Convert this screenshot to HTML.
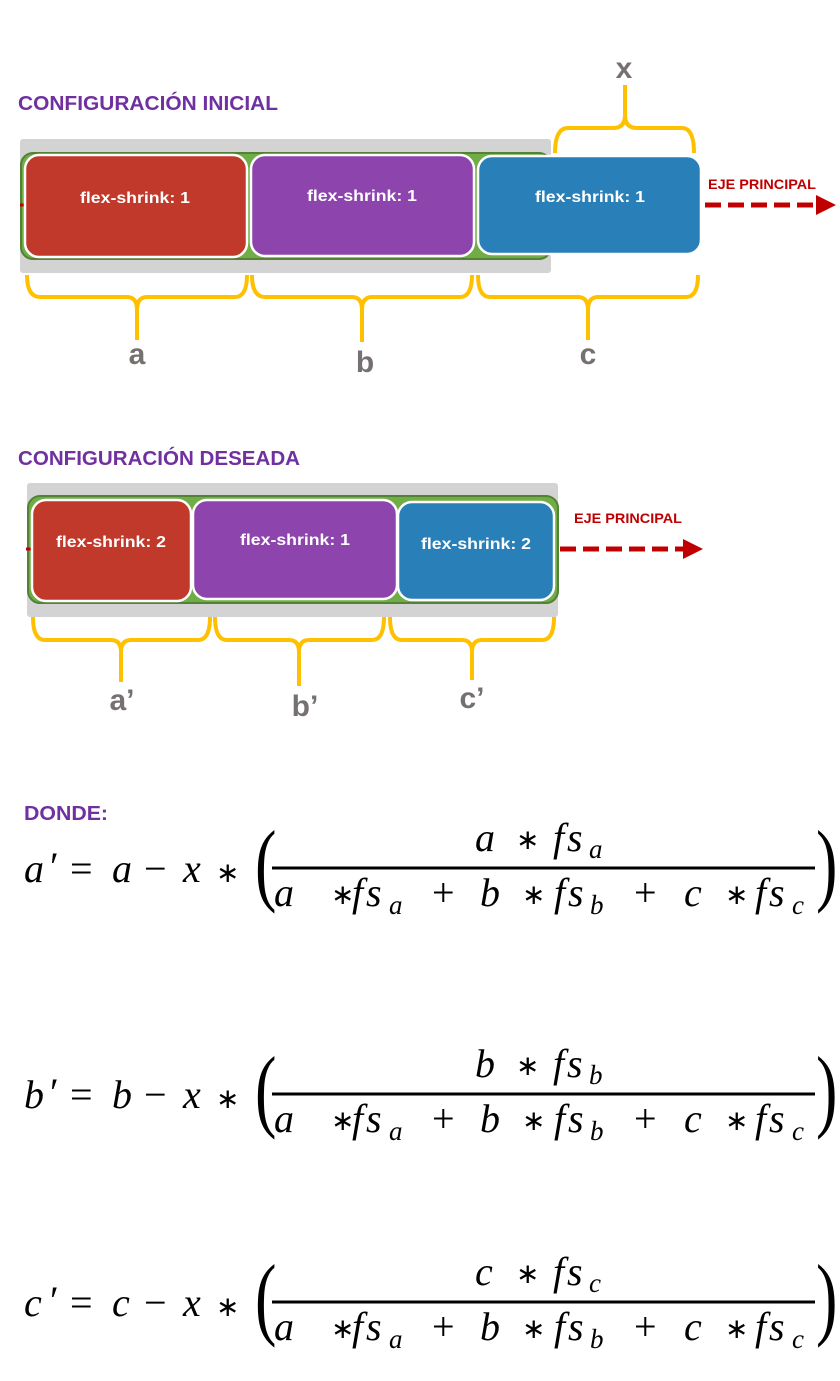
<!DOCTYPE html>
<html><head><meta charset="utf-8"><style>
html,body{margin:0;padding:0;background:#fff;}
svg{display:block;}
.t{font-family:"Liberation Sans",sans-serif;font-weight:bold;}
.m{font-family:"Liberation Serif",serif;font-style:italic;fill:#000;}
.r{font-family:"Liberation Serif",serif;fill:#000;}
</style></head><body>
<svg id="s" width="840" height="1381" viewBox="0 0 840 1381">
<!-- Section 1 -->
<text class="t" x="18" y="110" font-size="20" fill="#7030a0" textLength="260" lengthAdjust="spacingAndGlyphs">CONFIGURACIÓN INICIAL</text>
<rect x="20" y="139" width="531" height="134" rx="3" fill="#d3d3d3"/>
<rect x="21" y="153" width="530" height="106" rx="12" fill="#70ad47" stroke="#538135" stroke-width="2"/>
<line x1="20" y1="205" x2="30" y2="205" stroke="#c00000" stroke-width="3"/>
<rect x="25" y="155" width="222" height="102" rx="14" fill="#c0392b" stroke="#fff" stroke-width="2.5"/>
<rect x="251" y="155" width="223" height="101" rx="14" fill="#8e44ad" stroke="#fff" stroke-width="2.5"/>
<rect x="478" y="156" width="223" height="98" rx="14" fill="#2980b9" stroke="#fff" stroke-width="2.5"/>
<g class="t" font-size="16" fill="#fff" text-anchor="middle">
<text x="135" y="203" textLength="110" lengthAdjust="spacingAndGlyphs">flex-shrink: 1</text>
<text x="362" y="201" textLength="110" lengthAdjust="spacingAndGlyphs">flex-shrink: 1</text>
<text x="590" y="202" textLength="110" lengthAdjust="spacingAndGlyphs">flex-shrink: 1</text>
</g>
<text class="t" x="708" y="189" font-size="14" fill="#c00000" textLength="108" lengthAdjust="spacingAndGlyphs">EJE PRINCIPAL</text>
<line x1="705" y1="205" x2="818" y2="205" stroke="#c00000" stroke-width="5" stroke-dasharray="16,7"/>
<polygon points="816,195 836,205 816,215" fill="#c00000"/>
<g fill="none" stroke="#ffc000" stroke-width="4" stroke-linejoin="round">
<path d="M27,275 Q27,297 40,297 L127,297 Q137,297 137,310 L137,340 M137,310 Q137,297 147,297 L235,297 Q247,297 247,275"/>
<path d="M252,275 Q252,297 265,297 L352,297 Q362,297 362,310 L362,342 M362,310 Q362,297 372,297 L460,297 Q472,297 472,275"/>
<path d="M478,275 Q478,297 490,297 L578,297 Q588,297 588,310 L588,340 M588,310 Q588,297 598,297 L686,297 Q698,297 698,275"/>
<path d="M555,153 Q555,128 568,128 L613,128 Q625,128 625,115 L625,85 M625,115 Q625,128 637,128 L682,128 Q694,128 694,153"/>
</g>
<g class="t" font-size="30" fill="#767171" text-anchor="middle">
<text x="137" y="364">a</text><text x="365" y="372">b</text><text x="588" y="364">c</text><text x="624" y="78">x</text>
</g>
<!-- Section 2 -->
<text class="t" x="18" y="465" font-size="20" fill="#7030a0" textLength="282" lengthAdjust="spacingAndGlyphs">CONFIGURACIÓN DESEADA</text>
<rect x="27" y="483" width="531" height="134" rx="3" fill="#d3d3d3"/>
<rect x="28" y="496" width="530" height="107" rx="12" fill="#70ad47" stroke="#538135" stroke-width="2"/>
<line x1="26" y1="549" x2="34" y2="549" stroke="#c00000" stroke-width="3"/>
<rect x="32" y="500" width="159" height="101" rx="14" fill="#c0392b" stroke="#fff" stroke-width="2.5"/>
<rect x="193" y="500" width="204" height="99" rx="14" fill="#8e44ad" stroke="#fff" stroke-width="2.5"/>
<rect x="398" y="502" width="156" height="98" rx="14" fill="#2980b9" stroke="#fff" stroke-width="2.5"/>
<g class="t" font-size="16" fill="#fff" text-anchor="middle">
<text x="111" y="547" textLength="110" lengthAdjust="spacingAndGlyphs">flex-shrink: 2</text>
<text x="295" y="545" textLength="110" lengthAdjust="spacingAndGlyphs">flex-shrink: 1</text>
<text x="476" y="549" textLength="110" lengthAdjust="spacingAndGlyphs">flex-shrink: 2</text>
</g>
<text class="t" x="574" y="523" font-size="14" fill="#c00000" textLength="108" lengthAdjust="spacingAndGlyphs">EJE PRINCIPAL</text>
<line x1="560" y1="549" x2="686" y2="549" stroke="#c00000" stroke-width="5" stroke-dasharray="16,7"/>
<polygon points="683,539 703,549 683,559" fill="#c00000"/>
<g fill="none" stroke="#ffc000" stroke-width="4" stroke-linejoin="round">
<path d="M33,617 Q33,640 45,640 L111,640 Q121,640 121,652 L121,682 M121,652 Q121,640 131,640 L198,640 Q210,640 210,617"/>
<path d="M215,617 Q215,640 227,640 L289,640 Q299,640 299,652 L299,686 M299,652 Q299,640 309,640 L372,640 Q384,640 384,617"/>
<path d="M390,617 Q390,640 402,640 L462,640 Q472,640 472,652 L472,680 M472,652 Q472,640 482,640 L542,640 Q554,640 554,617"/>
</g>
<g class="t" font-size="30" fill="#767171" text-anchor="middle">
<text x="122" y="710">a’</text><text x="305" y="716">b’</text><text x="472" y="708">c’</text>
</g>
<text class="t" x="24" y="820" font-size="20" fill="#7030a0" textLength="84" lengthAdjust="spacingAndGlyphs">DONDE:</text>
<g id="f"></g>
</svg>
<script>
const g=document.getElementById('f');
const NS='http://www.w3.org/2000/svg';
function tx(par,x,y,s,cls,size){const t=document.createElementNS(NS,'text');t.setAttribute('x',x);t.setAttribute('y',y);t.setAttribute('class',cls);t.setAttribute('font-size',size);t.textContent=s;par.appendChild(t);return t;}
const forms=[['a','a',0],['b','b',226],['c','c',434]];
forms.forEach(([v,sub,dy])=>{
  const grp=document.createElementNS(NS,'g');
  
  
  g.appendChild(grp);
  const by=882+dy, ly=868+dy, ny=851+dy, dny=906+dy;
  const M=40, A=28, S=27;
  tx(grp,24,by,v,'m',M);tx(grp,50,by-2,'′','r',M);tx(grp,70,by,'=','r',M);tx(grp,112,by,v,'m',M);tx(grp,144,by,'−','r',M);tx(grp,183,by,'x','m',M);tx(grp,216,by,'∗','r',A);
  const lp=tx(grp,0,0,'(','r',92);lp.setAttribute('transform','translate(255,'+(by+12)+') scale(0.7,1)');
  const rp=tx(grp,0,0,')','r',92);rp.setAttribute('transform','translate(816,'+(by+12)+') scale(0.7,1)');
  const l=document.createElementNS(NS,'line');l.setAttribute('x1',272);l.setAttribute('x2',815);l.setAttribute('y1',ly);l.setAttribute('y2',ly);l.setAttribute('stroke','#000');l.setAttribute('stroke-width',3);grp.appendChild(l);
  tx(grp,475,ny,v,'m',M);tx(grp,516,ny-2,'∗','r',A);tx(grp,553,ny,'f','m',M);tx(grp,567,ny,'s','m',M);tx(grp,589,ny+7,sub,'m',S);
  tx(grp,274,dny,'a','m',M);tx(grp,331,dny-2,'∗','r',A);tx(grp,352,dny,'f','m',M);tx(grp,366,dny,'s','m',M);tx(grp,389,dny+8,'a','m',S);
  tx(grp,432,dny,'+','r',M);tx(grp,480,dny,'b','m',M);tx(grp,522,dny-2,'∗','r',A);tx(grp,554,dny,'f','m',M);tx(grp,568,dny,'s','m',M);tx(grp,590,dny+8,'b','m',S);
  tx(grp,634,dny,'+','r',M);tx(grp,684,dny,'c','m',M);tx(grp,725,dny-2,'∗','r',A);tx(grp,755,dny,'f','m',M);tx(grp,769,dny,'s','m',M);tx(grp,792,dny+8,'c','m',S);
});
</script>
</body></html>
